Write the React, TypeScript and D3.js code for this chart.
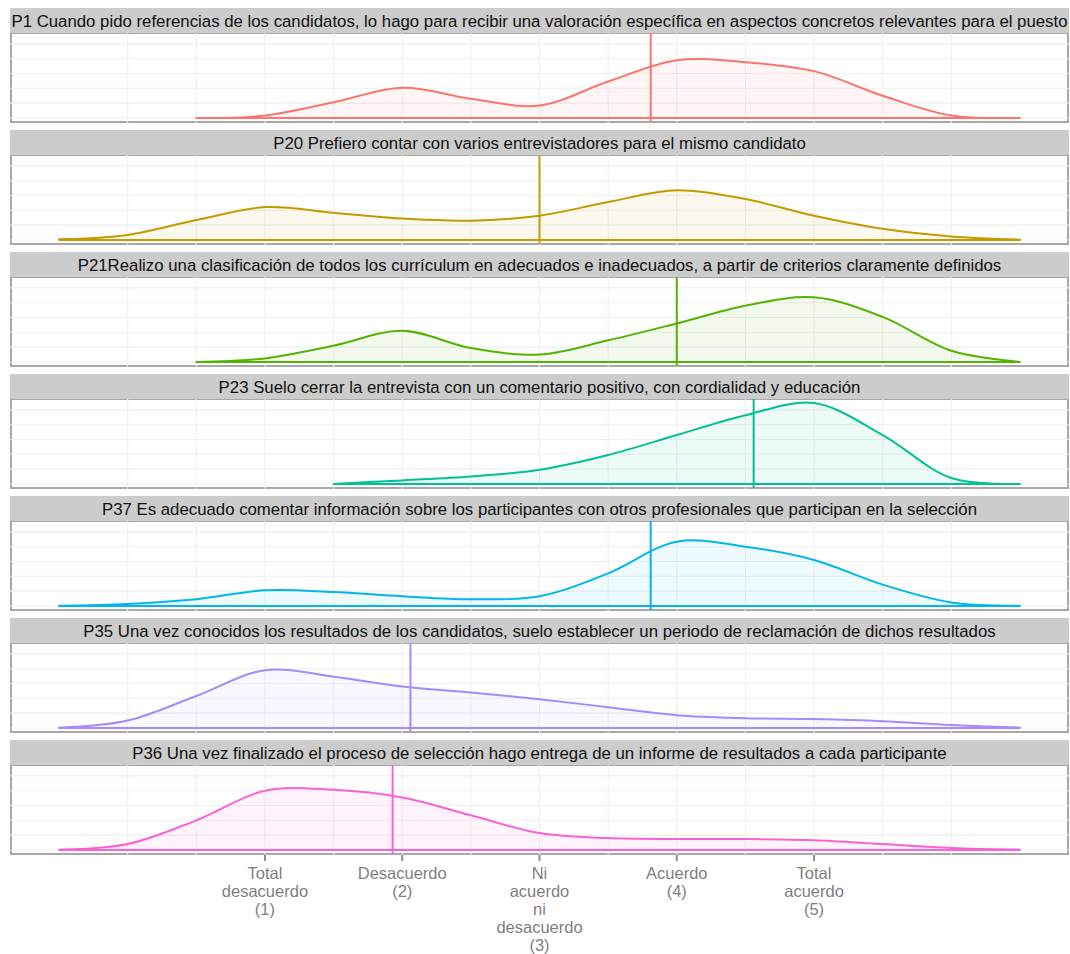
import React from "react";
import * as d3 from "d3";

// ---- data ----
const xGrid = [-0.5, 0, 0.5, 1, 1.5, 2, 2.5, 3, 3.5, 4, 4.5, 5, 5.5, 6, 6.5];

const titles = [
  "P1 Cuando pido referencias de los candidatos, lo hago para recibir una valoración específica en aspectos concretos relevantes para el puesto",
  "P20 Prefiero contar con varios entrevistadores para el mismo candidato",
  "P21Realizo una clasificación de todos los currículum en adecuados e inadecuados, a partir de criterios claramente definidos",
  "P23 Suelo cerrar la entrevista con un comentario positivo, con cordialidad y educación",
  "P37 Es adecuado comentar información sobre los participantes con otros profesionales que participan en la selección",
  "P35 Una vez conocidos los resultados de los candidatos, suelo establecer un periodo de reclamación de dichos resultados",
  "P36 Una vez finalizado el proceso de selección hago entrega de un informe de resultados a cada participante",
];

const colors = ["#F8766D", "#C49A00", "#53B400", "#00C094", "#00B6EB", "#A58AFF", "#FB61D7"];

const p1Density = [null, null, 0.0, 0.008, 0.053, 0.102, 0.065, 0.042, 0.123, 0.195, 0.188, 0.158, 0.075, 0.008, 0.0];
const p20Density = [0.002, 0.017, 0.067, 0.111, 0.092, 0.072, 0.065, 0.082, 0.128, 0.168, 0.138, 0.082, 0.038, 0.012, 0.001];
const p21Density = [null, null, 0.0, 0.012, 0.055, 0.105, 0.047, 0.025, 0.073, 0.13, 0.19, 0.218, 0.152, 0.038, 0.0];
const p23Density = [null, null, null, null, 0.0, 0.012, 0.025, 0.048, 0.098, 0.165, 0.232, 0.273, 0.165, 0.02, 0.0];
const p37Density = [0.001, 0.007, 0.023, 0.053, 0.047, 0.033, 0.023, 0.033, 0.11, 0.217, 0.2, 0.155, 0.072, 0.012, 0.001];
const p35Density = [0.001, 0.025, 0.108, 0.195, 0.173, 0.14, 0.12, 0.097, 0.07, 0.043, 0.033, 0.03, 0.023, 0.01, 0.001];
const p36Density = [0.001, 0.02, 0.1, 0.2, 0.203, 0.177, 0.117, 0.057, 0.04, 0.037, 0.037, 0.033, 0.02, 0.007, 0.001];

const densities = [p1Density, p20Density, p21Density, p23Density, p37Density, p35Density, p36Density];

const means = [3.81, 3.0, 4.0, 4.56, 3.81, 2.06, 1.93];

const tickValues = [1, 2, 3, 4, 5];
const tickLabels = [
  ["Total", "desacuerdo", "(1)"],
  ["Desacuerdo", "(2)"],
  ["Ni", "acuerdo", "ni", "desacuerdo", "(3)"],
  ["Acuerdo", "(4)"],
  ["Total", "acuerdo", "(5)"],
];

const xGridLines = [0, 0.5, 1, 1.5, 2, 2.5, 3, 3.5, 4, 4.5, 5, 5.5, 6];

// ---- layout ----
const W = 1070;
const H = 954;
const LEFT = 11;
const RIGHT = 1068;
const TOP = 8;
const STEP = 122;
const STRIP_H = 25;
const PANEL_H = 89;
const FONT = "'Liberation Sans', Arial, Helvetica, sans-serif";

export default function App() {
  const x = d3.scaleLinear().domain([-0.85, 6.85]).range([LEFT, RIGHT]);
  const maxD = d3.max(densities.flat().filter((v) => v != null) as number[]) as number;
  const yDomain = [-0.05 * maxD, 1.05 * maxD];
  const yGridVals = d3.range(0, 1.05 * maxD, 0.05);

  const panels = titles.map((title, i) => {
    const stripTop = TOP + i * STEP;
    const pTop = stripTop + STRIP_H;
    const pBot = pTop + PANEL_H;
    const y = d3.scaleLinear().domain(yDomain).range([pBot, pTop]);
    const pts = xGrid
      .map((xv, j) => ({ x: xv, d: densities[i][j] }))
      .filter((p) => p.d != null) as { x: number; d: number }[];
    const line = d3
      .line<{ x: number; d: number }>()
      .x((p) => x(p.x))
      .y((p) => Math.min(y(p.d), y(0)))
      .curve(d3.curveCatmullRom.alpha(0.5));
    const curve = line(pts) as string;
    const x0 = x(pts[0].x);
    const x1 = x(pts[pts.length - 1].x);
    const polygon = `${curve}L${x1},${y(0)}L${x0},${y(0)}Z`;
    const clipId = `clip${i}`;
    return (
      <g key={i}>
        <defs>
          <clipPath id={clipId}>
            <rect x={LEFT} y={pTop} width={RIGHT - LEFT} height={y(0) - pTop + 1} />
          </clipPath>
          <clipPath id={clipId + "p"}>
            <rect x={LEFT} y={pTop} width={RIGHT - LEFT} height={PANEL_H} />
          </clipPath>
        </defs>
        <rect x={LEFT} y={pTop} width={RIGHT - LEFT} height={PANEL_H} fill="#ffffff" stroke="#a8a8a8" strokeWidth={2} />
        {yGridVals.map((v, k) => (
          <line key={"h" + k} x1={LEFT - 1} x2={RIGHT + 1} y1={y(v)} y2={y(v)} stroke="#efefef" strokeWidth={1.1} />
        ))}
        {xGridLines.map((v, k) => (
          <line key={"v" + k} x1={x(v)} x2={x(v)} y1={pTop - 1} y2={pBot + 1} stroke="#efefef" strokeWidth={1.1} />
        ))}
        <g clipPath={`url(#${clipId})`}>
          <path d={polygon} fill={colors[i]} fillOpacity={0.07} stroke={colors[i]} strokeWidth={2} strokeLinejoin="round" />
        </g>
        <g clipPath={`url(#${clipId}p)`}>
          <line x1={x(0.5) > 0 ? x0 : x0} x2={x1} y1={y(0)} y2={y(0)} stroke={colors[i]} strokeWidth={2} />
          <line x1={x(means[i])} x2={x(means[i])} y1={pTop} y2={pBot} stroke={colors[i]} strokeWidth={2} />
        </g>
        <rect x={LEFT - 1} y={stripTop} width={RIGHT - LEFT + 2} height={STRIP_H} fill="#cccccc" />
        <text
          x={(LEFT + RIGHT) / 2}
          y={stripTop + 18.5}
          textAnchor="middle"
          fontFamily={FONT}
          fontSize={16.8}
          fill="#111111"
        >
          {title}
        </text>
      </g>
    );
  });

  const lastBot = TOP + (titles.length - 1) * STEP + STRIP_H + PANEL_H;

  return (
    <div style={{ position: "absolute", left: 0, top: 0 }}>
      <svg width={W} height={H} style={{ display: "block" }}>
        <rect x={0} y={0} width={W} height={H} fill="#ffffff" />
        {panels}
        {tickValues.map((v, k) => (
          <g key={k}>
            <line x1={x(v)} x2={x(v)} y1={lastBot + 1} y2={lastBot + 7} stroke="#8c8c8c" strokeWidth={2} />
            {tickLabels[k].map((s, m) => (
              <text
                key={m}
                x={x(v)}
                y={lastBot + 25 + m * 18}
                textAnchor="middle"
                fontFamily={FONT}
                fontSize={16.5}
                fill="#7f7f7f"
              >
                {s}
              </text>
            ))}
          </g>
        ))}
      </svg>
    </div>
  );
}
